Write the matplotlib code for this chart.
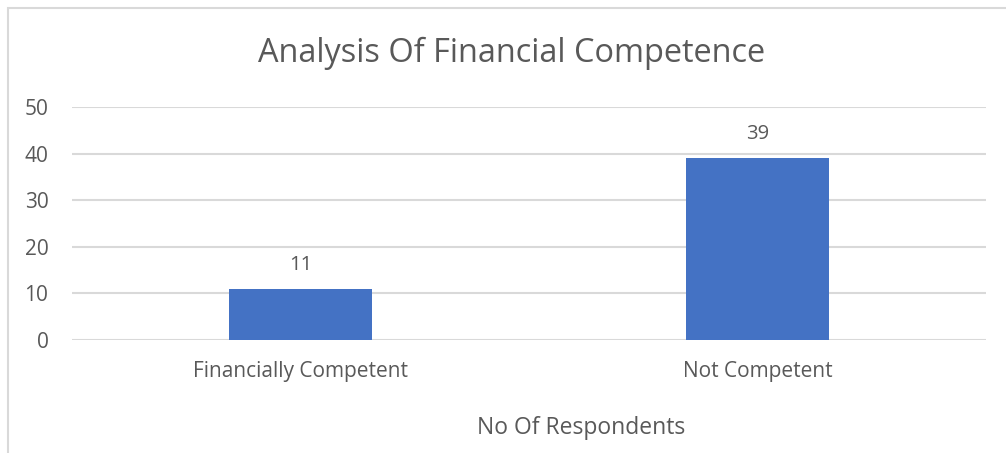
import matplotlib.pyplot as plt
from matplotlib.patches import Rectangle

categories = ["Financially Competent", "Not Competent"]
respondents = [11, 39]
y_ticks = [0, 10, 20, 30, 40, 50]

text_color = "#595959"
bar_color = "#4472C4"
grid_color = "#D9D9D9"

plt.rcParams['font.family'] = ['Open Sans', 'DejaVu Sans']

fig = plt.figure(figsize=(10.06, 4.53), dpi=100)
ax = fig.add_axes([0.0716, 0.2494, 0.9085, 0.5144])

x = range(len(categories))
bars = ax.bar(x, respondents, width=0.313, color=bar_color, zorder=3)

ax.set_xlim(-0.5, len(categories) - 0.5)
ax.set_ylim(0, 50)
ax.set_yticks(y_ticks)
ax.set_xticks(list(x))
ax.set_xticklabels(categories)
ax.tick_params(axis='both', length=0, colors=text_color, labelsize=15)
ax.tick_params(axis='y', pad=17)
ax.tick_params(axis='x', pad=15)
ax.grid(axis='y', color=grid_color, linewidth=1.5, zorder=0)
for s in ax.spines.values():
    s.set_visible(False)

# value labels above each bar
for b, v in zip(bars, respondents):
    ax.annotate(str(v), (b.get_x() + b.get_width() / 2, v),
                xytext=(0, 10), textcoords='offset points',
                ha='center', va='bottom', fontsize=14.5, color=text_color)

fig.text(0.509, 0.882, "Analysis Of Financial Competence", ha='center', va='center',
         fontsize=23.4, color=text_color)
fig.text(0.578, 0.056, "No Of Respondents", ha='center', va='center',
         fontsize=16.5, color=text_color)

# chart border (only left and top edges fall inside the image)
fig.patches.append(Rectangle((8 / 1006, -0.1), 1.2, 1 - 8 / 453 + 0.1,
                             transform=fig.transFigure, fill=False,
                             edgecolor="#D9D9D9", linewidth=1.5))

fig.savefig("out.png", dpi=100)
